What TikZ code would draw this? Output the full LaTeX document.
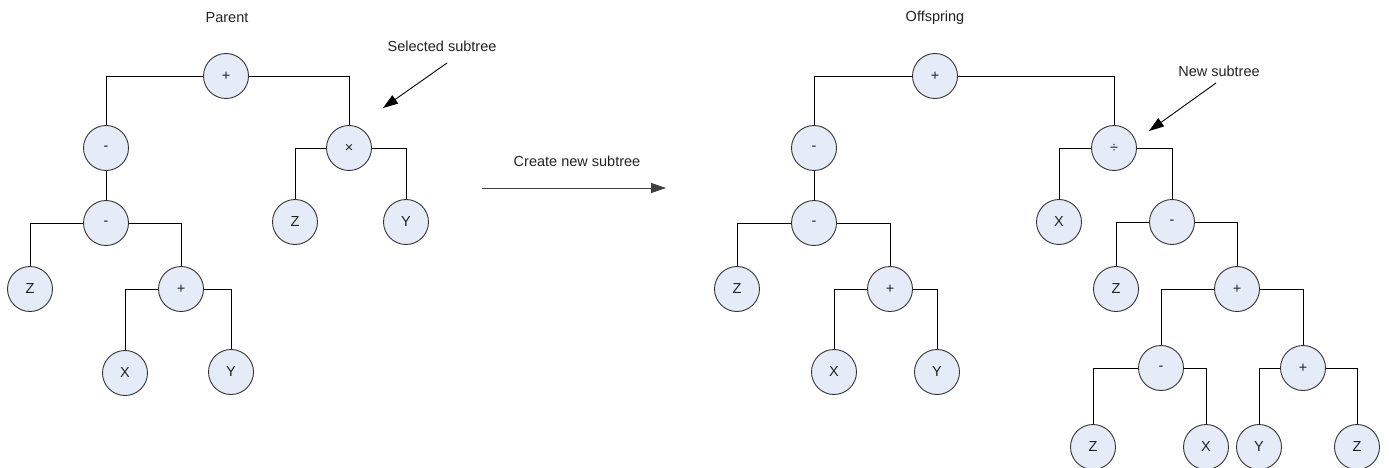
\documentclass[tikz,border=0pt]{standalone}
\usepackage{fontspec}
\setmainfont{Liberation Sans}
\usetikzlibrary{arrows.meta}
\definecolor{nodefill}{HTML}{E6ECF7}
\definecolor{nodeline}{HTML}{333333}
\definecolor{textcol}{HTML}{222222}
\begin{document}
\begin{tikzpicture}[x=1pt,y=-1pt,
  op/.style={circle, draw=nodeline, fill=nodefill, line width=0.9pt,
    minimum size=45pt, inner sep=0pt, text=textcol,
    font=\fontsize{14.5}{16}\selectfont},
  link/.style={draw=black, line width=0.9pt},
  caption/.style={inner sep=0pt, text=textcol, font=\fontsize{14.5}{16}\selectfont},
  pointer/.style={line width=0.9pt, -{Triangle[length=15pt,width=10pt]}}]
\useasboundingbox (0,0) rectangle (1389,468);

% ---- Parent tree ----
\node[caption] (parentlbl) at (227,18) {Parent};
\node[op] (pA) at (226,76)  {+};
\node[op] (pB) at (106,148) {-};
\node[op] (pC) at (349,148) {×};
\node[op] (pD) at (106,223) {-};
\node[op] (pE) at (295,222) {Z};
\node[op] (pF) at (406,222) {Y};
\node[op] (pG) at (30,289)  {Z};
\node[op] (pH) at (181,289) {+};
\node[op] (pI) at (125,373) {X};
\node[op] (pJ) at (231,372) {Y};

\draw[link] (pA.west) -| (pB.north);
\draw[link] (pA.east) -| (pC.north);
\draw[link] (pB.south) -- (pD.north);
\draw[link] (pC.west) -| (pE.north);
\draw[link] (pC.east) -| (pF.north);
\draw[link] (pD.west) -| (pG.north);
\draw[link] (pD.east) -| (pH.north);
\draw[link] (pH.west) -| (pI.north);
\draw[link] (pH.east) -| (pJ.north);

\node[caption] (sellbl) at (442,46) {Selected subtree};
\coordinate (selfrom) at (447,63);
\coordinate (selto) at (383,108);
\draw[pointer] (selfrom) -- (selto);

% ---- Operation ----
\node[caption] (oplbl) at (577,161) {Create new subtree};
\coordinate (opfrom) at (482,188);
\coordinate (opto) at (666,188);
\draw[pointer, draw=black!75] (opfrom) -- (opto);

% ---- Offspring tree ----
\node[caption] (offlbl) at (935,18) {Offspring};
\node[op] (oA) at (935,76)   {+};
\node[op] (oB) at (814,148)  {-};
\node[op] (oC) at (1114,148) {÷};
\node[op] (oD) at (814,223)  {-};
\node[op] (oE) at (1059,222) {X};
\node[op] (oF) at (1172,222) {-};
\node[op] (oG) at (737,289)  {Z};
\node[op] (oH) at (890,289)  {+};
\node[op] (oI) at (834,372)  {X};
\node[op] (oJ) at (937,372)  {Y};
\node[op] (oK) at (1116,289) {Z};
\node[op] (oL) at (1237,289) {+};
\node[op] (oM) at (1161,368) {-};
\node[op] (oN) at (1303,368) {+};
\node[op] (oO) at (1093,447) {Z};
\node[op] (oP) at (1206,447) {X};
\node[op] (oQ) at (1259,447) {Y};
\node[op] (oR) at (1357,447) {Z};

\draw[link] (oA.west) -| (oB.north);
\draw[link] (oA.east) -| (oC.north);
\draw[link] (oB.south) -- (oD.north);
\draw[link] (oD.west) -| (oG.north);
\draw[link] (oD.east) -| (oH.north);
\draw[link] (oH.west) -| (oI.north);
\draw[link] (oH.east) -| (oJ.north);
\draw[link] (oC.west) -| (oE.north);
\draw[link] (oC.east) -| (oF.north);
\draw[link] (oF.west) -| (oK.north);
\draw[link] (oF.east) -| (oL.north);
\draw[link] (oL.west) -| (oM.north);
\draw[link] (oL.east) -| (oN.north);
\draw[link] (oM.west) -| (oO.north);
\draw[link] (oM.east) -| (oP.north);
\draw[link] (oN.west) -| (oQ.north);
\draw[link] (oN.east) -| (oR.north);

\node[caption] (newlbl) at (1219,71) {New subtree};
\coordinate (newfrom) at (1216,83);
\coordinate (newto) at (1149,131);
\draw[pointer] (newfrom) -- (newto);
\end{tikzpicture}
\end{document}
